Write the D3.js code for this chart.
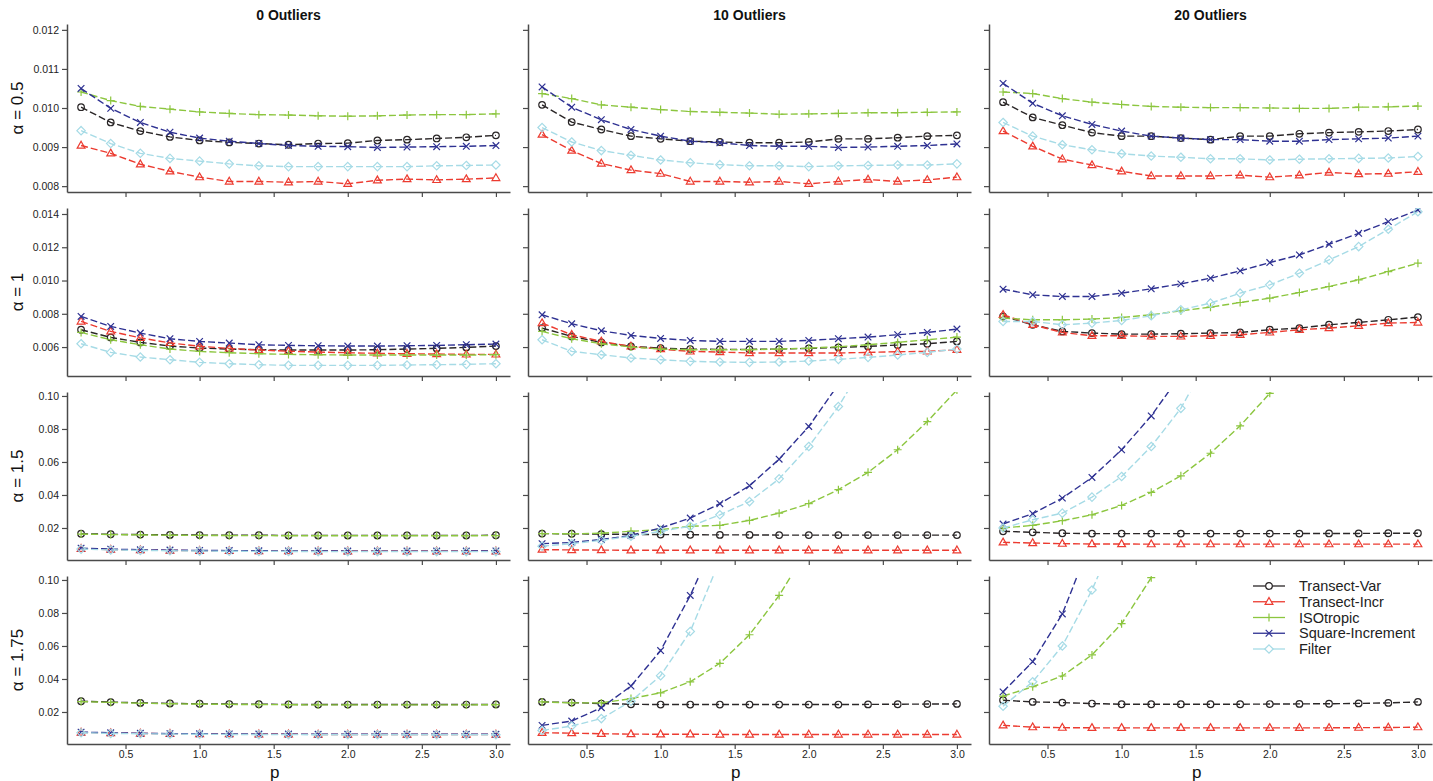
<!DOCTYPE html>
<html><head><meta charset="utf-8">
<script src="https://cdn.jsdelivr.net/npm/d3@7"></script>
<style>body{margin:0;background:#fff;} svg{display:block;font-family:"Liberation Sans",Arial,sans-serif;}</style>
</head><body><svg id="chart" width="1433" height="781"></svg>
<script>
// ---------- data ----------
const pValues = [0.2,0.4,0.6,0.8,1.0,1.2,1.4,1.6,1.8,2.0,2.2,2.4,2.6,2.8,3.0];
const seriesNames = ["Transect-Var","Transect-Incr","ISOtropic","Square-Increment","Filter"];
const outlierLabels = ["0 Outliers","10 Outliers","20 Outliers"];
const alphaLabels = ["α = 0.5","α = 1","α = 1.5","α = 1.75"];
const xTickValues = [0.5,1.0,1.5,2.0,2.5,3.0];
const yTicksAlpha05 = [0.008,0.009,0.010,0.011,0.012];
const yTicksAlpha1 = [0.006,0.008,0.010,0.012,0.014];
const yTicksAlpha15 = [0.02,0.04,0.06,0.08,0.10];
const yTicksAlpha175 = [0.02,0.04,0.06,0.08,0.10];

// each panel: [Transect-Var, Transect-Incr, ISOtropic, Square-Increment, Filter]
const alpha05_out0 = [
  [0.01002,0.00963,0.00941,0.00926,0.00917,0.00912,0.00909,0.00906,0.00909,0.0091,0.00917,0.00919,0.00922,0.00925,0.0093],
  [0.00904,0.00884,0.00856,0.00838,0.00823,0.00812,0.00812,0.0081,0.00812,0.00806,0.00815,0.00818,0.00816,0.00818,0.00821],
  [0.01041,0.01019,0.01004,0.00997,0.0099,0.00986,0.00983,0.00982,0.0098,0.00979,0.0098,0.00982,0.00983,0.00983,0.00985],
  [0.0105,0.00999,0.00963,0.00938,0.00923,0.00915,0.00909,0.00904,0.00902,0.00901,0.00899,0.009,0.00901,0.00902,0.00904],
  [0.00942,0.00909,0.00884,0.00871,0.00864,0.00857,0.00852,0.0085,0.0085,0.0085,0.0085,0.0085,0.00852,0.00853,0.00854]];
const alpha05_out10 = [
  [0.01008,0.00964,0.00945,0.00928,0.00921,0.00915,0.00913,0.00911,0.00911,0.00913,0.00921,0.00921,0.00924,0.00928,0.0093],
  [0.00932,0.00891,0.00858,0.00841,0.00832,0.00812,0.00812,0.0081,0.00812,0.00806,0.00812,0.00817,0.00812,0.00816,0.00823],
  [0.01037,0.01024,0.01008,0.01002,0.00996,0.00991,0.00989,0.00987,0.00984,0.00985,0.00986,0.00988,0.00988,0.00989,0.0099],
  [0.01054,0.01002,0.0097,0.00945,0.00928,0.00915,0.00911,0.00904,0.00902,0.00902,0.00899,0.009,0.00902,0.00904,0.00908],
  [0.0095,0.00913,0.00891,0.00879,0.00867,0.0086,0.00855,0.00852,0.00852,0.0085,0.00852,0.00853,0.00854,0.00854,0.00857]];
const alpha05_out20 = [
  [0.01015,0.00976,0.00956,0.00937,0.00928,0.00928,0.00923,0.00919,0.00928,0.00928,0.00934,0.00937,0.00939,0.00941,0.00945],
  [0.00941,0.00902,0.00869,0.00854,0.00838,0.00826,0.00826,0.00826,0.00828,0.00823,0.00828,0.00835,0.00831,0.00832,0.00837],
  [0.01041,0.01037,0.01024,0.01015,0.01009,0.01004,0.01002,0.01001,0.01001,0.01,0.00999,0.00999,0.01002,0.01003,0.01005],
  [0.01063,0.01012,0.0098,0.00958,0.00941,0.00928,0.00923,0.00919,0.00919,0.00915,0.00915,0.00919,0.00921,0.00923,0.00928],
  [0.00963,0.00928,0.00906,0.00893,0.00883,0.00877,0.00874,0.0087,0.0087,0.00867,0.00869,0.0087,0.00871,0.00872,0.00876]];

const alpha1_out0 = [
  [0.00704,0.00658,0.00628,0.00606,0.00594,0.00588,0.00584,0.00582,0.00582,0.00582,0.00584,0.00588,0.00592,0.00598,0.00606],
  [0.00754,0.00694,0.00655,0.00625,0.00605,0.00592,0.00582,0.00575,0.0057,0.00566,0.00562,0.0056,0.00558,0.00556,0.00556],
  [0.00688,0.00644,0.00614,0.00588,0.00574,0.00566,0.0056,0.00556,0.00554,0.00552,0.00552,0.00552,0.00552,0.00552,0.00554],
  [0.00784,0.00724,0.00684,0.0065,0.00634,0.00624,0.00614,0.0061,0.00608,0.00606,0.00606,0.00608,0.0061,0.00614,0.00618],
  [0.0062,0.00568,0.0054,0.00524,0.00508,0.005,0.00494,0.0049,0.0049,0.0049,0.0049,0.00492,0.00494,0.00496,0.005]];
const alpha1_out10 = [
  [0.00714,0.00664,0.00628,0.00604,0.00594,0.00588,0.00586,0.00586,0.00588,0.00592,0.00598,0.00604,0.00612,0.0062,0.00634],
  [0.00744,0.00674,0.00634,0.00604,0.00588,0.00574,0.0057,0.00564,0.00564,0.00564,0.00564,0.00568,0.00572,0.00574,0.00584],
  [0.00694,0.0065,0.0062,0.006,0.00588,0.00584,0.00584,0.00584,0.00588,0.00594,0.00602,0.00614,0.00628,0.00644,0.0066],
  [0.00794,0.0074,0.00698,0.0067,0.00652,0.0064,0.00634,0.00634,0.00634,0.0064,0.0065,0.0066,0.00674,0.00688,0.00708],
  [0.00644,0.00574,0.00554,0.00534,0.00524,0.00514,0.0051,0.00508,0.0051,0.00516,0.00526,0.00538,0.00552,0.00568,0.00588]];
const alpha1_out20 = [
  [0.00784,0.00734,0.00694,0.00684,0.00678,0.00678,0.0068,0.00684,0.00688,0.00704,0.00714,0.00734,0.00748,0.00764,0.0078],
  [0.00794,0.00734,0.00688,0.00668,0.00668,0.00664,0.00664,0.00668,0.00674,0.00688,0.00704,0.00714,0.00728,0.00744,0.00748],
  [0.00774,0.00764,0.00764,0.00768,0.00778,0.00794,0.00818,0.0084,0.00868,0.00894,0.00928,0.00964,0.01004,0.01054,0.01104],
  [0.00948,0.00914,0.00904,0.00904,0.00924,0.0095,0.0098,0.01014,0.01058,0.01108,0.01154,0.01218,0.01284,0.01354,0.01424],
  [0.00754,0.00754,0.00734,0.00744,0.0076,0.00788,0.00824,0.00864,0.00924,0.00974,0.01044,0.01124,0.01204,0.01308,0.01414]];

const alpha15_out0 = [
  [0.0165,0.0162,0.016,0.0158,0.0157,0.0156,0.0156,0.0155,0.0155,0.0155,0.0155,0.0155,0.0155,0.0155,0.0156],
  [0.0074,0.0069,0.0066,0.0064,0.0062,0.0061,0.006,0.006,0.0059,0.0059,0.0059,0.0059,0.0059,0.0059,0.0059],
  [0.0163,0.016,0.0158,0.0156,0.0155,0.0154,0.0154,0.0153,0.0153,0.0153,0.0153,0.0153,0.0153,0.0153,0.0154],
  [0.0078,0.0072,0.0068,0.0066,0.0064,0.0063,0.0062,0.0061,0.0061,0.006,0.006,0.006,0.006,0.006,0.0061],
  [0.0072,0.0067,0.0064,0.0062,0.006,0.0059,0.0058,0.0058,0.0057,0.0057,0.0057,0.0057,0.0057,0.0057,0.0057]];
const alpha15_out10 = [
  [0.0166,0.0165,0.0163,0.0161,0.016,0.0159,0.0158,0.0158,0.0157,0.0157,0.0157,0.0157,0.0157,0.0157,0.0157],
  [0.0069,0.0067,0.0066,0.0065,0.0065,0.0065,0.0065,0.0065,0.0065,0.0065,0.0065,0.0065,0.0065,0.0065,0.0065],
  [0.0166,0.0165,0.0168,0.018,0.019,0.021,0.0216,0.0246,0.029,0.0347,0.0432,0.0537,0.0674,0.0845,0.1036],
  [0.0105,0.0112,0.013,0.0155,0.02,0.026,0.0347,0.0456,0.0617,0.0815,0.107,null,null,null,null],
  [0.009,0.0105,0.0125,0.015,0.018,0.021,0.028,0.036,0.0498,0.0694,0.0936,0.123,null,null,null]];
const alpha15_out20 = [
  [0.018,0.0174,0.0168,0.0166,0.0166,0.0166,0.0166,0.0166,0.0166,0.0166,0.0166,0.0167,0.0167,0.0168,0.0168],
  [0.0113,0.0109,0.0105,0.0103,0.0103,0.0102,0.0102,0.0102,0.0102,0.0102,0.0102,0.0102,0.0102,0.0102,0.0102],
  [0.02,0.0216,0.0244,0.028,0.0337,0.0416,0.0516,0.0653,0.0819,0.1016,0.125,null,null,null,null],
  [0.0224,0.0287,0.0381,0.0506,0.0674,0.0879,0.113,null,null,null,null,null,null,null,null],
  [0.02,0.025,0.029,0.0387,0.0512,0.0694,0.0925,0.125,null,null,null,null,null,null,null]];

const alpha175_out0 = [
  [0.0265,0.026,0.0255,0.0252,0.025,0.0248,0.0247,0.0246,0.0245,0.0245,0.0245,0.0245,0.0245,0.0245,0.0246],
  [0.0076,0.0072,0.007,0.0068,0.0067,0.0066,0.0065,0.0065,0.0064,0.0064,0.0064,0.0064,0.0064,0.0064,0.0064],
  [0.0263,0.0258,0.0253,0.025,0.0248,0.0246,0.0245,0.0244,0.0243,0.0243,0.0243,0.0243,0.0243,0.0243,0.0244],
  [0.0078,0.0074,0.0071,0.0069,0.0068,0.0067,0.0066,0.0066,0.0065,0.0065,0.0065,0.0065,0.0065,0.0065,0.0065],
  [0.0074,0.007,0.0068,0.0066,0.0065,0.0064,0.0063,0.0063,0.0062,0.0062,0.0062,0.0062,0.0062,0.0062,0.0062]];
const alpha175_out10 = [
  [0.0261,0.0257,0.0251,0.0247,0.0245,0.0245,0.0245,0.0245,0.0245,0.0245,0.0245,0.0246,0.0247,0.0248,0.0249],
  [0.0074,0.0072,0.0068,0.0066,0.0065,0.0065,0.0064,0.0064,0.0064,0.0064,0.0064,0.0064,0.0064,0.0064,0.0064],
  [0.0261,0.0255,0.0255,0.0281,0.0316,0.0383,0.0495,0.0668,0.0906,0.12,null,null,null,null,null],
  [0.0119,0.0145,0.0226,0.0357,0.0572,0.0906,0.13,null,null,null,null,null,null,null,null],
  [0.0088,0.0115,0.016,0.0265,0.042,0.0688,0.112,null,null,null,null,null,null,null,null]];
const alpha175_out20 = [
  [0.0271,0.0261,0.0257,0.0251,0.0247,0.0247,0.0247,0.0247,0.0247,0.0248,0.0249,0.025,0.0252,0.0255,0.0261],
  [0.0119,0.0108,0.0105,0.0104,0.0104,0.0104,0.0104,0.0104,0.0104,0.0104,0.0104,0.0104,0.0105,0.0106,0.0108],
  [0.0296,0.0353,0.0418,0.0546,0.0735,0.1014,0.135,null,null,null,null,null,null,null,null],
  [0.0322,0.0505,0.0794,0.125,null,null,null,null,null,null,null,null,null,null,null],
  [0.0235,0.0383,0.06,0.0939,0.135,null,null,null,null,null,null,null,null,null,null]];

// ---------- styles / layout ----------
const seriesColors = ["#2a2627","#ec3b30","#8cc63f","#2e3192","#a6dbe6"];
const seriesShapes = ["circle","triangle","plus","cross","diamond"];
const shapePaths = {
  circle: "M3.3,0A3.3,3.3,0,1,1,-3.3,0A3.3,3.3,0,1,1,3.3,0Z",
  triangle: "M0,-4.2L3.9,2.6L-3.9,2.6Z",
  plus: "M-4,0H4M0,-4V4",
  cross: "M-3.3,-3.3L3.3,3.3M-3.3,3.3L3.3,-3.3",
  diamond: "M0,-4.2L4.2,0L0,4.2L-4.2,0Z"
};
const colX = [67,528,989], rowY = [24,208,392,576], PW = 443, PH = 168;
const panels = [
  [alpha05_out0, alpha05_out10, alpha05_out20],
  [alpha1_out0, alpha1_out10, alpha1_out20],
  [alpha15_out0, alpha15_out10, alpha15_out20],
  [alpha175_out0, alpha175_out10, alpha175_out20]];
const yDomains = [[0.00785,0.01215],[0.00426,0.01436],[0.0006,0.1024],[0.0006,0.1024]];
const yTickSets = [yTicksAlpha05, yTicksAlpha1, yTicksAlpha15, yTicksAlpha175];
const yFormats = [".3f",".3f",".2f",".2f"];
const axisColor = "#4a4a4a";

const svg = d3.select("#chart");
const defs = svg.append("defs");

function styleAxis(g){
  g.select(".domain").attr("stroke", axisColor).attr("stroke-width", 1.5);
  g.selectAll(".tick line").attr("stroke", axisColor).attr("stroke-width", 1.2);
  g.selectAll(".tick text").attr("fill","#222").style("font-size","10.5px")
    .style("font-family",'"Liberation Sans",Arial,sans-serif');
}

panels.forEach((row, r) => {
  row.forEach((panel, c) => {
    const x = d3.scaleLinear().domain([0.105, 3.095]).range([colX[c], colX[c] + PW]);
    const y = d3.scaleLinear().domain(yDomains[r]).range([rowY[r] + PH, rowY[r]]);

    const gy = svg.append("g").attr("transform", `translate(${colX[c]},0)`)
      .call(d3.axisLeft(y).tickValues(yTickSets[r]).tickSize(5).tickSizeOuter(0).tickPadding(3)
        .tickFormat(c === 0 ? d3.format(yFormats[r]) : () => ""));
    styleAxis(gy);
    const gx = svg.append("g").attr("transform", `translate(0,${rowY[r] + PH})`)
      .call(d3.axisBottom(x).tickValues(xTickValues).tickSize(5).tickSizeOuter(0).tickPadding(2)
        .tickFormat(r === 3 ? d3.format(".1f") : () => ""));
    styleAxis(gx);

    const cid = `clip-${r}-${c}`;
    defs.append("clipPath").attr("id", cid).append("rect")
      .attr("x", colX[c]).attr("y", rowY[r]).attr("width", PW).attr("height", PH);
    const g = svg.append("g").attr("clip-path", `url(#${cid})`);

    panel.forEach((vals, s) => {
      const pts = pValues.map((p, i) => [p, vals[i]]);
      const line = d3.line().defined(d => d[1] != null).x(d => x(d[0])).y(d => y(d[1]));
      g.append("path").attr("d", line(pts)).attr("fill","none")
        .attr("stroke", seriesColors[s]).attr("stroke-width", 1.4)
        .attr("stroke-dasharray","7,3");
      g.selectAll(null).data(pts.filter(d => d[1] != null)).enter().append("path")
        .attr("d", shapePaths[seriesShapes[s]])
        .attr("transform", d => `translate(${x(d[0])},${y(d[1])})`)
        .attr("fill","none").attr("stroke", seriesColors[s]).attr("stroke-width", 1.2);
    });

    if (r === 0) {
      svg.append("text").attr("x", colX[c] + PW / 2).attr("y", 20).attr("text-anchor","middle")
        .style("font-size","14px").style("font-weight","bold").attr("fill","#111").text(outlierLabels[c]);
    }
    if (c === 0) {
      svg.append("text").attr("transform", `translate(23,${rowY[r] + PH / 2}) rotate(-90)`)
        .attr("text-anchor","middle").style("font-size","17px").attr("fill","#111").text(alphaLabels[r]);
    }
    if (r === 3) {
      svg.append("text").attr("x", x(1.5) + 1).attr("y", 778).attr("text-anchor","middle")
        .style("font-size","17px").attr("fill","#111").text("p");
    }
  });
});

// legend
const legX = 1253, legY0 = 586, legDy = 15.75;
const leg = svg.append("g");
seriesNames.forEach((name, s) => {
  const yy = legY0 + s * legDy;
  leg.append("line").attr("x1", legX).attr("x2", legX + 32).attr("y1", yy).attr("y2", yy)
    .attr("stroke", seriesColors[s]).attr("stroke-width", 1.3);
  leg.append("path").attr("d", shapePaths[seriesShapes[s]]).attr("transform", `translate(${legX + 16},${yy})`)
    .attr("fill","#fff").attr("stroke", seriesColors[s]).attr("stroke-width", 1.2);
  leg.append("text").attr("x", legX + 46).attr("y", yy + 5).style("font-size","14.5px").attr("fill","#222").text(name);
});
</script></body></html>
